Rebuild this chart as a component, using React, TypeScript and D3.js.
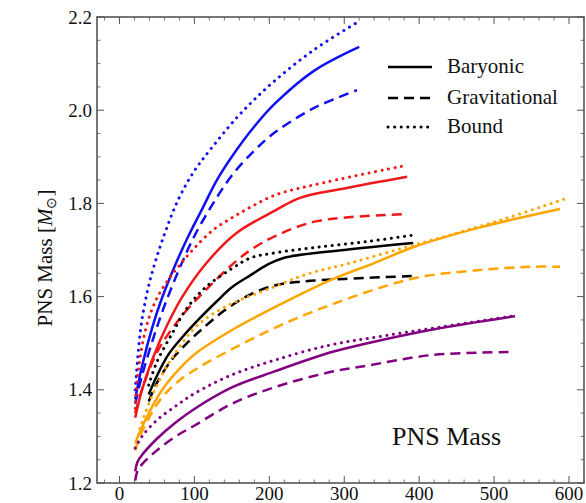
import React from "react";
import * as d3 from "d3";

type P = [number, number];

// Blue
const blueBaryonic: P[] = [[21,1.38],[30,1.45],[44,1.535],[57,1.598],[75,1.67],[92,1.73],[111,1.79],[130,1.85],[152,1.905],[180,1.965],[208,2.015],[260,2.085],[320,2.136]];
const blueGravitational: P[] = [[21,1.37],[30,1.43],[45,1.51],[60,1.58],[80,1.66],[100,1.73],[125,1.80],[150,1.86],[181,1.915],[208,1.953],[260,2.005],[317,2.043]];
const blueBound: P[] = [[21,1.40],[25,1.48],[30,1.55],[40,1.63],[57,1.72],[79,1.81],[100,1.87],[121,1.915],[160,1.99],[205,2.06],[260,2.13],[319,2.19]];
// Red
const redBaryonic: P[] = [[21,1.34],[30,1.40],[45,1.47],[64,1.54],[84,1.60],[115,1.67],[155,1.735],[208,1.785],[241,1.812],[300,1.832],[384,1.857]];
const redGravitational: P[] = [[21,1.35],[30,1.40],[50,1.48],[79,1.55],[115,1.614],[155,1.675],[175,1.70],[208,1.73],[264,1.762],[384,1.777]];
const redBound: P[] = [[21,1.36],[25,1.44],[35,1.53],[48,1.59],[65,1.636],[84,1.675],[101,1.706],[125,1.743],[151,1.77],[175,1.792],[208,1.818],[277,1.846],[384,1.882]];
// Black
const blackBaryonic: P[] = [[39,1.39],[50,1.43],[65,1.475],[85,1.515],[105,1.55],[130,1.59],[150,1.62],[175,1.646],[197,1.668],[219,1.683],[300,1.70],[392,1.715]];
const blackGravitational: P[] = [[39,1.375],[50,1.415],[70,1.465],[90,1.50],[110,1.53],[140,1.57],[175,1.605],[210,1.625],[241,1.632],[300,1.638],[391,1.644]];
const blackBound: P[] = [[39,1.41],[50,1.46],[70,1.52],[90,1.575],[115,1.62],[150,1.66],[175,1.683],[208,1.694],[264,1.706],[330,1.718],[392,1.732]];
// Orange
const orangeBaryonic: P[] = [[21,1.285],[30,1.32],[57,1.40],[80,1.445],[105,1.482],[152,1.53],[208,1.578],[281,1.635],[340,1.672],[392,1.706],[480,1.748],[588,1.788]];
const orangeGravitational: P[] = [[21,1.27],[30,1.31],[55,1.38],[80,1.42],[108,1.45],[150,1.487],[197,1.525],[240,1.556],[285,1.584],[340,1.615],[401,1.642],[481,1.657],[548,1.664],[588,1.664]];
const orangeBound: P[] = [[21,1.275],[30,1.33],[50,1.41],[75,1.48],[105,1.54],[150,1.585],[197,1.615],[250,1.648],[308,1.672],[380,1.705],[441,1.732],[520,1.77],[595,1.81]];
// Purple
const purpleBaryonic: P[] = [[21,1.225],[24,1.245],[30,1.26],[50,1.295],[75,1.33],[101,1.36],[150,1.405],[208,1.44],[281,1.48],[331,1.50],[420,1.53],[528,1.558]];
const purpleGravitational: P[] = [[21,1.205],[24,1.225],[30,1.24],[50,1.27],[75,1.30],[101,1.324],[150,1.37],[208,1.406],[281,1.438],[331,1.452],[419,1.475],[524,1.481]];
const purpleBound: P[] = [[21,1.275],[30,1.30],[50,1.335],[75,1.365],[101,1.393],[150,1.432],[208,1.464],[281,1.496],[350,1.515],[430,1.535],[531,1.56]];

const xTicks = [0, 100, 200, 300, 400, 500, 600];
const yTicks = [1.2, 1.4, 1.6, 1.8, 2.0, 2.2];
const legendLabels = ["Baryonic", "Gravitational", "Bound"];

const series = [
  { data: blueBaryonic, color: "#1010f0", kind: 0 },
  { data: blueGravitational, color: "#1010f0", kind: 1 },
  { data: blueBound, color: "#1010f0", kind: 2 },
  { data: redBaryonic, color: "#f01818", kind: 0 },
  { data: redGravitational, color: "#f01818", kind: 1 },
  { data: redBound, color: "#f01818", kind: 2 },
  { data: blackBaryonic, color: "#000000", kind: 0 },
  { data: blackGravitational, color: "#000000", kind: 1 },
  { data: blackBound, color: "#000000", kind: 2 },
  { data: orangeBaryonic, color: "#ffa500", kind: 0 },
  { data: orangeGravitational, color: "#ffa500", kind: 1 },
  { data: orangeBound, color: "#ffa500", kind: 2 },
  { data: purpleBaryonic, color: "#800080", kind: 0 },
  { data: purpleGravitational, color: "#800080", kind: 1 },
  { data: purpleBound, color: "#800080", kind: 2 },
];

const W = 586, H = 503;
const L = 97, R = 584, T = 17, B = 483;

const styleFor = (kind: number) => {
  if (kind === 0) return { strokeWidth: 2.5, strokeDasharray: undefined as string | undefined, strokeLinecap: "butt" as const };
  if (kind === 1) return { strokeWidth: 2.5, strokeDasharray: "10 6", strokeLinecap: "butt" as const };
  return { strokeWidth: 3, strokeDasharray: "0.1 6.5", strokeLinecap: "round" as const };
};

export default function App() {
  const x = d3.scaleLinear().domain([-30, 620]).range([L, R]);
  const y = d3.scaleLinear().domain([1.2, 2.2]).range([B, T]);
  const line = d3.line<P>().x(d => x(d[0])).y(d => y(d[1])).curve(d3.curveCatmullRom.alpha(0.5));
  const xMinor = d3.range(-20, 621, 20).filter(v => v % 100 !== 0);
  const yMinor = d3.range(1.2, 2.2001, 0.05).filter(v => Math.abs(Math.round(v * 5) - v * 5) > 1e-6);
  const font = "'Liberation Serif', 'Times New Roman', serif";
  const axisColor = "#555";
  return (
    <svg width={W} height={H} style={{ position: "absolute", left: 0, top: 0, background: "#fff" }} fontFamily={font}>
      <rect x={0} y={0} width={W} height={H} fill="#fff" />
      {series.map((s, i) => {
        const st = styleFor(s.kind);
        return (
          <path key={i} d={line(s.data) || ""} fill="none" stroke={s.color}
            strokeWidth={st.strokeWidth} strokeDasharray={st.strokeDasharray} strokeLinecap={st.strokeLinecap} />
        );
      })}
      {/* frame */}
      <rect x={L} y={T} width={R - L} height={B - T} fill="none" stroke={axisColor} strokeWidth={1.6} />
      {/* x ticks */}
      {xTicks.map(v => (
        <g key={"xt" + v}>
          <line x1={x(v)} x2={x(v)} y1={B} y2={B - 7} stroke={axisColor} strokeWidth={1} />
          <line x1={x(v)} x2={x(v)} y1={T} y2={T + 7} stroke={axisColor} strokeWidth={1} />
          <text x={x(v)} y={B + 17} textAnchor="middle" fontSize={19} fill="#111">{v}</text>
        </g>
      ))}
      {xMinor.map(v => (
        <g key={"xm" + v}>
          <line x1={x(v)} x2={x(v)} y1={B} y2={B - 3.5} stroke={axisColor} strokeWidth={0.8} />
          <line x1={x(v)} x2={x(v)} y1={T} y2={T + 3.5} stroke={axisColor} strokeWidth={0.8} />
        </g>
      ))}
      {yTicks.map(v => (
        <g key={"yt" + v}>
          <line x1={L} x2={L + 7} y1={y(v)} y2={y(v)} stroke={axisColor} strokeWidth={1} />
          <line x1={R} x2={R - 7} y1={y(v)} y2={y(v)} stroke={axisColor} strokeWidth={1} />
          <text x={L - 5} y={y(v) + 6.5} textAnchor="end" fontSize={19} fill="#111">{v.toFixed(1)}</text>
        </g>
      ))}
      {yMinor.map(v => (
        <g key={"ym" + v.toFixed(2)}>
          <line x1={L} x2={L + 3.5} y1={y(v)} y2={y(v)} stroke={axisColor} strokeWidth={0.8} />
          <line x1={R} x2={R - 3.5} y1={y(v)} y2={y(v)} stroke={axisColor} strokeWidth={0.8} />
        </g>
      ))}
      {/* y label */}
      <text transform={`translate(52, 258) rotate(-90)`} textAnchor="middle" fontSize={21} fill="#111">
        PNS Mass [<tspan fontStyle="italic">M</tspan><tspan fontSize={14} dy={4}>⊙</tspan><tspan dy={-4}>]</tspan>
      </text>
      {/* legend */}
      {legendLabels.map((lab, i) => {
        const st = styleFor(i);
        const ly = [67, 98, 127][i];
        return (
          <g key={lab}>
            <line x1={388} x2={432} y1={ly} y2={ly} stroke="#000" strokeWidth={st.strokeWidth}
              strokeDasharray={st.strokeDasharray} strokeLinecap={st.strokeLinecap} />
            <text x={447} y={ly + 6} fontSize={21} fill="#111">{lab}</text>
          </g>
        );
      })}
      <text x={392} y={445} fontSize={26} fill="#111">PNS Mass</text>
    </svg>
  );
}
